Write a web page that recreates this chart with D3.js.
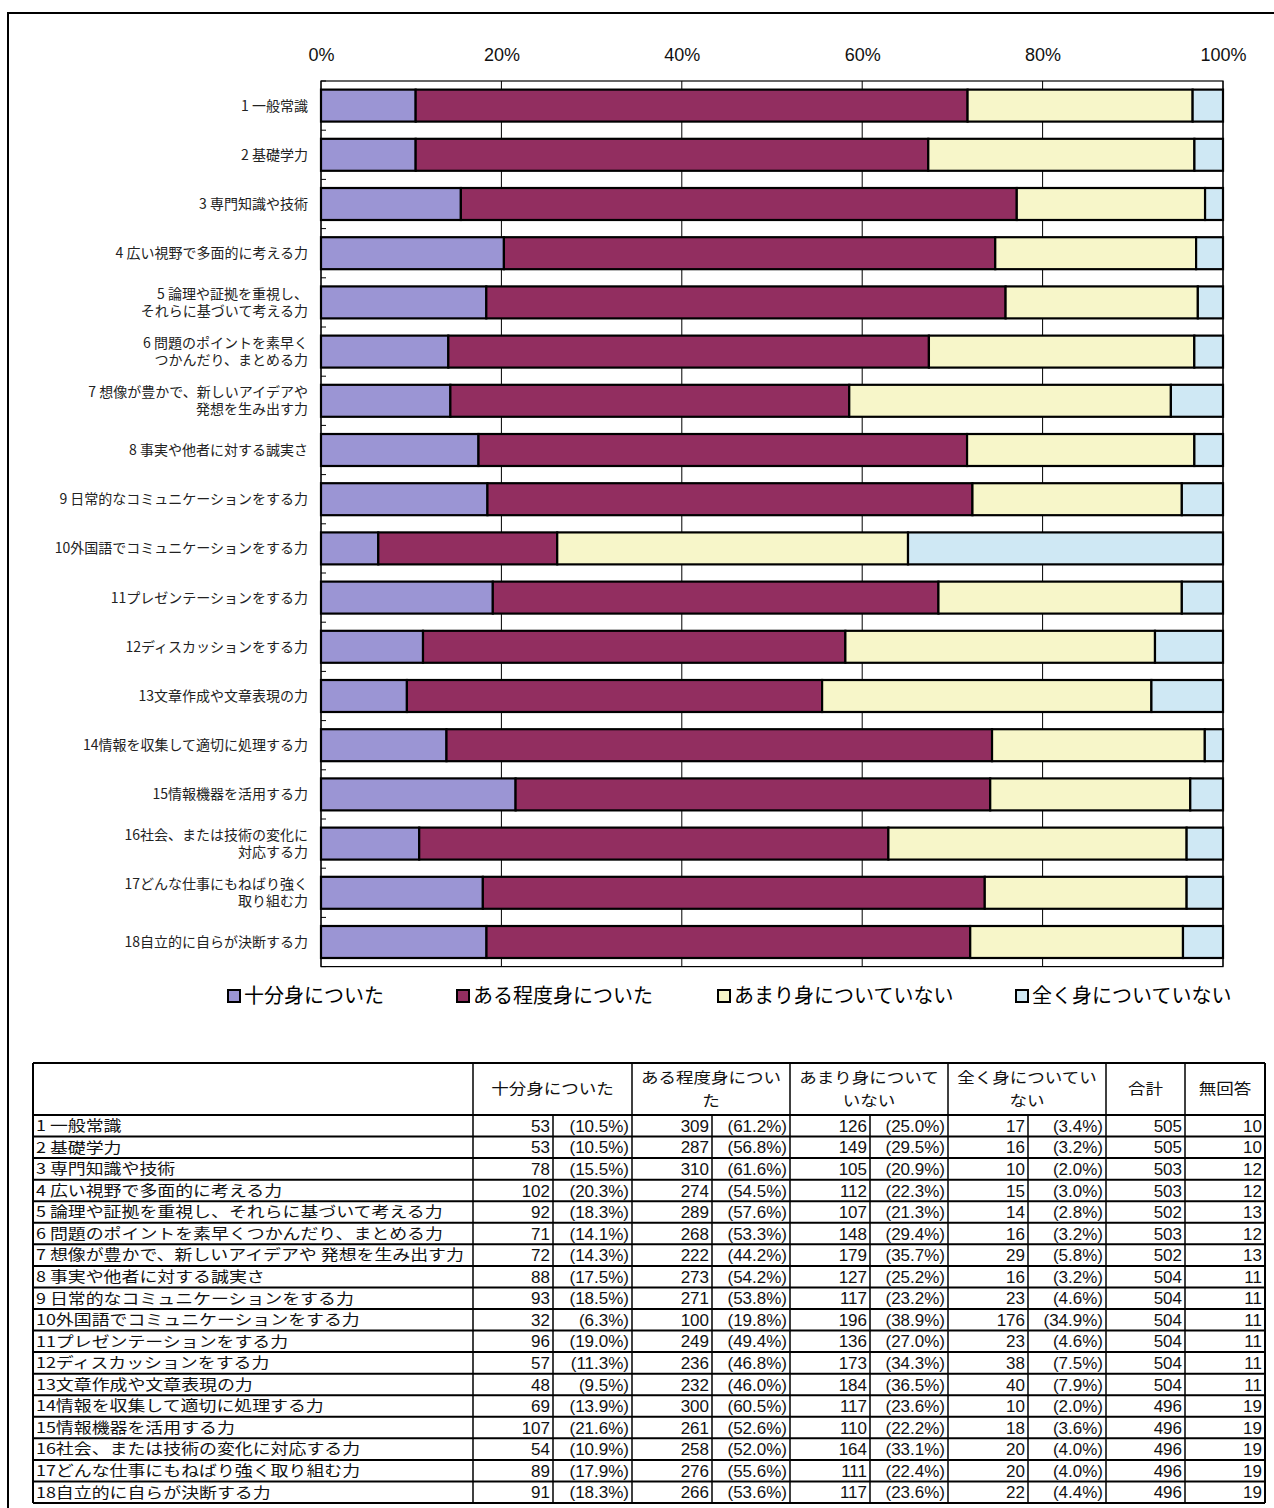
<!DOCTYPE html>
<html><head><meta charset="utf-8">
<script src="https://cdn.jsdelivr.net/npm/d3@7"></script>
<style>
html,body{margin:0;padding:0;background:#fff;}
svg{display:block;font-family:"Liberation Sans","Noto Sans CJK JP",sans-serif;}
</style></head><body>
<svg id="c" width="1274" height="1508"></svg>
<script>
const chartLabels = [
  ["1 一般常識"],["2 基礎学力"],["3 専門知識や技術"],["4 広い視野で多面的に考える力"],
  ["5 論理や証拠を重視し、","それらに基づいて考える力"],["6 問題のポイントを素早く","つかんだり、まとめる力"],
  ["7 想像が豊かで、新しいアイデアや","発想を生み出す力"],["8 事実や他者に対する誠実さ"],
  ["9 日常的なコミュニケーションをする力"],["10外国語でコミュニケーションをする力"],
  ["11プレゼンテーションをする力"],["12ディスカッションをする力"],["13文章作成や文章表現の力"],
  ["14情報を収集して適切に処理する力"],["15情報機器を活用する力"],["16社会、または技術の変化に","対応する力"],
  ["17どんな仕事にもねばり強く","取り組む力"],["18自立的に自らが決断する力"]
];
const tableLabels = [
  "1 一般常識","2 基礎学力","3 専門知識や技術","4 広い視野で多面的に考える力",
  "5 論理や証拠を重視し、それらに基づいて考える力","6 問題のポイントを素早くつかんだり、まとめる力",
  "7 想像が豊かで、新しいアイデアや 発想を生み出す力","8 事実や他者に対する誠実さ",
  "9 日常的なコミュニケーションをする力","10外国語でコミュニケーションをする力",
  "11プレゼンテーションをする力","12ディスカッションをする力","13文章作成や文章表現の力",
  "14情報を収集して適切に処理する力","15情報機器を活用する力","16社会、または技術の変化に対応する力",
  "17どんな仕事にもねばり強く取り組む力","18自立的に自らが決断する力"
];
const seriesNames = ["十分身についた","ある程度身についた","あまり身についていない","全く身についていない"];
const seriesColors = ["#9b95d4","#922e60","#f7f6c9","#cfe8f4"];
const full = [53,53,78,102,92,71,72,88,93,32,96,57,48,69,107,54,89,91];
const fullPct = [10.5,10.5,15.5,20.3,18.3,14.1,14.3,17.5,18.5,6.3,19.0,11.3,9.5,13.9,21.6,10.9,17.9,18.3];
const some = [309,287,310,274,289,268,222,273,271,100,249,236,232,300,261,258,276,266];
const somePct = [61.2,56.8,61.6,54.5,57.6,53.3,44.2,54.2,53.8,19.8,49.4,46.8,46.0,60.5,52.6,52.0,55.6,53.6];
const little = [126,149,105,112,107,148,179,127,117,196,136,173,184,117,110,164,111,117];
const littlePct = [25.0,29.5,20.9,22.3,21.3,29.4,35.7,25.2,23.2,38.9,27.0,34.3,36.5,23.6,22.2,33.1,22.4,23.6];
const none = [17,16,10,15,14,16,29,16,23,176,23,38,40,10,18,20,20,22];
const nonePct = [3.4,3.2,2.0,3.0,2.8,3.2,5.8,3.2,4.6,34.9,4.6,7.5,7.9,2.0,3.6,4.0,4.0,4.4];
const totals = [505,505,503,503,502,503,502,504,504,504,504,504,504,496,496,496,496,496];
const noAnswer = [10,10,12,12,13,12,13,11,11,11,11,11,11,19,19,19,19,19];
const xTicks = [0,0.2,0.4,0.6,0.8,1.0];
const tableHeaders = [["十分身についた"],["ある程度身につい","た"],["あまり身について","いない"],["全く身についてい","ない"],["合計"],["無回答"]];

const svg = d3.select("#c");
// outer frame
svg.append("rect").attr("x",8).attr("y",13).attr("width",1300).attr("height",1520)
  .attr("fill","none").attr("stroke","#000").attr("stroke-width",2);

const keys = ["full","some","little","none"];
const rows = full.map((d,i)=>({i, full:full[i], some:some[i], little:little[i], none:none[i]}));
const stacked = d3.stack().keys(keys).offset(d3.stackOffsetExpand)(rows);

const x = d3.scaleLinear().domain([0,1]).range([321,1223]);
const y = d3.scaleBand().domain(d3.range(18)).range([81,966.6]).paddingInner(0.35).paddingOuter(0.175);
const plotTop = 81, plotBottom = 966.6;

// plot frame & gridlines
const g = svg.append("g");
g.selectAll("line.grid").data(xTicks).join("line").attr("class","grid")
  .attr("x1",d=>x(d)).attr("x2",d=>x(d)).attr("y1",plotTop).attr("y2",plotBottom)
  .attr("stroke","#000").attr("stroke-width",1);
g.append("rect").attr("x",x(0)).attr("y",plotTop).attr("width",x(1)-x(0)).attr("height",plotBottom-plotTop)
  .attr("fill","none").attr("stroke","#000").attr("stroke-width",1.2);
g.selectAll("line.ctick").data(d3.range(19)).join("line").attr("class","ctick")
  .attr("x1",x(0)).attr("x2",x(0)+5)
  .attr("y1",d=>plotTop+d*y.step()).attr("y2",d=>plotTop+d*y.step())
  .attr("stroke","#000").attr("stroke-width",1);

// axis
const ax = svg.append("g").attr("transform",`translate(0,${plotTop})`)
  .call(d3.axisTop(x).tickValues(xTicks).tickFormat(d3.format(".0%")).tickSize(0).tickPadding(20));
ax.select(".domain").remove();
ax.selectAll("text").attr("font-size",18).attr("fill","#111")
  .attr("font-family","'Liberation Sans Narrow','Liberation Sans',sans-serif");

// bars
svg.append("g").selectAll("g").data(stacked).join("g")
  .attr("fill",(d,k)=>seriesColors[k])
  .selectAll("rect").data(d=>d).join("rect")
  .attr("x",d=>x(d[0])).attr("width",d=>x(d[1])-x(d[0]))
  .attr("y",d=>y(d.data.i)).attr("height",y.bandwidth())
  .attr("stroke","#000").attr("stroke-width",2.2);

// category labels
const lab = svg.append("g").selectAll("text").data(chartLabels).join("text")
  .attr("x",308).attr("text-anchor","end").attr("font-size",14).attr("fill","#222")
  .attr("font-family","'Noto Sans CJK JP',sans-serif");
lab.each(function(d,i){
  const cy = y(i)+y.bandwidth()/2;
  const t = d3.select(this);
  d.forEach((line,j)=>{
    const off = d.length===1 ? 0 : (j===0 ? -8.5 : 8.5);
    t.append("tspan").attr("x",308).attr("y",cy+off).attr("dy","0.35em").text(line);
  });
});

// legend
const legX = [228,457,718,1016];
const leg = svg.append("g").selectAll("g").data(seriesNames).join("g")
  .attr("transform",(d,i)=>`translate(${legX[i]},996)`);
leg.append("rect").attr("x",0).attr("y",-6).attr("width",12).attr("height",12)
  .attr("fill",(d,i)=>seriesColors[i]).attr("stroke","#000").attr("stroke-width",2);
leg.append("text").attr("x",16).attr("dy","0.36em").attr("font-size",20).attr("fill","#000")
  .attr("font-family","'Noto Sans CJK JP',sans-serif").text(d=>d);

// table
const tT = 1063, tH = 1115, rowH = (1503-1115)/18, tB = 1503;
const colX = [33,473,632,790,948,1106,1185,1265];
const subX = [553,712,870,1028];
const tg = svg.append("g");
tg.selectAll("line.h").data(d3.range(19)).join("line").attr("class","h")
  .attr("x1",colX[0]).attr("x2",colX[7]).attr("y1",d=>tH+d*rowH).attr("y2",d=>tH+d*rowH)
  .attr("stroke","#000").attr("stroke-width",2);
tg.append("line").attr("x1",colX[0]).attr("x2",colX[7]).attr("y1",tT).attr("y2",tT).attr("stroke","#000").attr("stroke-width",2);
tg.selectAll("line.v").data(colX).join("line").attr("class","v")
  .attr("x1",d=>d).attr("x2",d=>d).attr("y1",tT).attr("y2",tB)
  .attr("stroke","#000").attr("stroke-width",(d,i)=>(i===0||i===7)?2:1.5);
tg.selectAll("line.s").data(subX).join("line").attr("class","s")
  .attr("x1",d=>d).attr("x2",d=>d).attr("y1",tH).attr("y2",tB)
  .attr("stroke","#000").attr("stroke-width",1.5);
// header text (each line its own text, slightly condensed vertically)
tableHeaders.forEach((lines,k)=>{
  const cx = (colX[k+1]+colX[k+2])/2;
  const cy = (tT+tH)/2;
  lines.forEach((ln,j)=>{
    const off = lines.length===1?0:(j===0?-11.2:11.2);
    tg.append("text").attr("transform",`translate(${cx},${cy+off}) scale(1.03,0.9)`)
      .attr("dy","0.35em").attr("text-anchor","middle").attr("font-size",17).attr("fill","#111")
      .attr("font-family","'Noto Sans CJK JP',sans-serif").text(ln);
  });
});
// row labels (slightly condensed vertically so each fits its row)
tableLabels.forEach((t,i)=>{
  const cy = tH + i*rowH + rowH/2;
  tg.append("text").attr("transform",`translate(36,${cy}) scale(1.12,0.92)`)
    .attr("dy","0.36em").attr("font-size",16).attr("fill","#111")
    .attr("font-family","'Noto Sans CJK JP',sans-serif").text(t);
});
const fmtP = v => `(${v.toFixed(1)}%)`;
const cols = [
  [full, subX[0]], [fullPct, colX[2], true],
  [some, subX[1]], [somePct, colX[3], true],
  [little, subX[2]], [littlePct, colX[4], true],
  [none, subX[3]], [nonePct, colX[5], true],
  [totals, colX[6]], [noAnswer, colX[7]]
];
tableLabels.forEach((t,i)=>{
  const cy = tH + i*rowH + rowH/2;
  cols.forEach(([arr,xr,isP])=>{
    tg.append("text").attr("x",xr-3).attr("y",cy).attr("dy","0.36em").attr("text-anchor","end")
      .attr("font-size",17).attr("fill","#111")
      .attr("font-family","'Liberation Sans Narrow','Liberation Sans',sans-serif")
      .text(isP?fmtP(arr[i]):arr[i]);
  });
});
</script>
</body></html>
